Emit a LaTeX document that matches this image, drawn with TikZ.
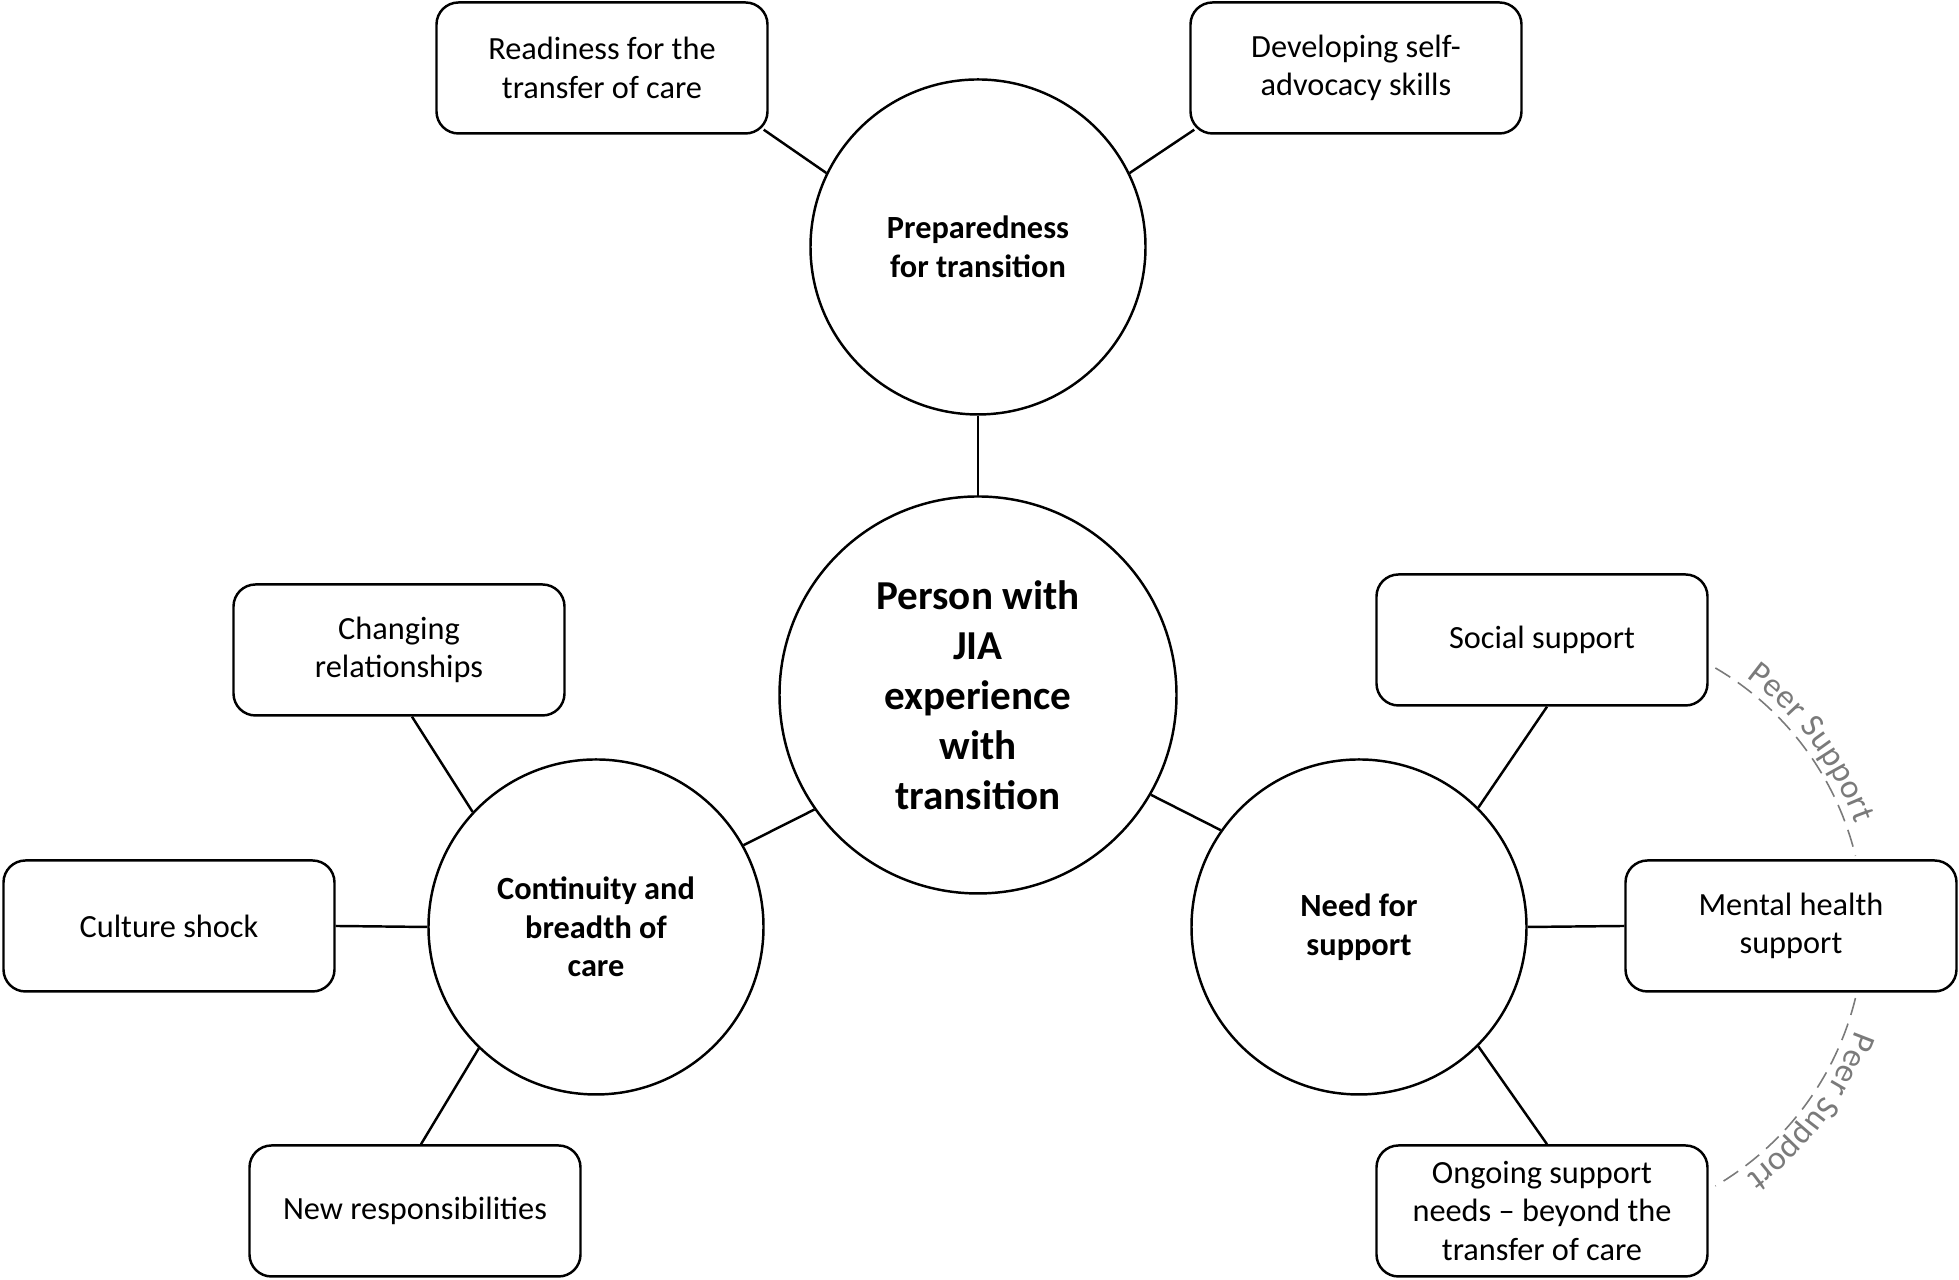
\documentclass[tikz,border=0pt]{standalone}
\usepackage{fontspec}
\setmainfont{Carlito}
\usetikzlibrary{decorations.text}
\definecolor{peergray}{HTML}{7A7A7A}
\tikzset{theme/.style = {shape=circle,draw,line width=0.7pt,minimum size=3.35cm,align=center,font=\bfseries\fontsize{9.2}{11}\selectfont}}
\tikzset{core/.style = {shape=circle,draw,line width=0.7pt,minimum size=3.97cm,align=center,font=\bfseries\fontsize{11.7}{14.2}\selectfont}}
\tikzset{subtheme/.style = {shape=rectangle,draw,rounded corners=0.22cm,line width=0.7pt,minimum width=3.31cm,minimum height=1.31cm,align=center,font=\fontsize{9.2}{10.9}\selectfont}}
\tikzset{link/.style = {line width=0.7pt}}
\tikzset{peerline/.style = {draw=peergray,line width=0.45pt,dash pattern=on 5pt off 2.6pt}}
\tikzset{peertext/.style = {decorate,decoration={text along path,text align=center,raise=2.5pt,text={|\fontsize{9.6}{11}\selectfont\color{peergray}|Peer Support}}}}

\begin{document}
\begin{tikzpicture}
\useasboundingbox (0,0) rectangle (19.59,12.8);

% themes
\node[core] (core) at (9.78,5.85) {Person with\\JIA\\experience\\with\\transition};
\node[theme] (prep) at (9.78,10.33) {Preparedness\\for transition};
\node[theme] (cont) at (5.96,3.53) {Continuity and\\breadth of\\care};
\node[theme] (need) at (13.59,3.53) {Need for\\support};

% subthemes
\node[subtheme] (read) at (6.02,12.12) {Readiness for the\\transfer of care};
\node[subtheme] (dev) at (13.56,12.12) {Developing self-\\advocacy skills};
\node[subtheme] (chg) at (3.99,6.30) {Changing\\relationships};
\node[subtheme] (cult) at (1.69,3.54) {Culture shock};
\node[subtheme] (new) at (4.15,0.69) {New responsibilities};
\node[subtheme] (soc) at (15.42,6.40) {Social support};
\node[subtheme] (ment) at (17.91,3.54) {Mental health\\support};
\node[subtheme] (ong) at (15.42,0.69) {Ongoing support\\needs – beyond the\\transfer of care};

\coordinate (peer) at (15.64,3.53);

\draw[link] (prep.154)
  -- ([shift={(-0.05,0.05)}]read.south east);
\draw[link] (prep.26)
  -- ([shift={(0.05,0.05)}]dev.south west);
\draw[link] (prep.south)
  -- (core.north);
\draw[link] (core.215)
  -- (cont.29);
\draw[link] (core.330)
  -- (need.145);

\draw[link] (cont.137)
  -- ([xshift=0.13cm]chg.south);
\draw[link] (cont.west)
  -- (cult.east);
\draw[link] (cont.226)
  -- ([xshift=0.06cm]new.north);

\draw[link] (need.45)
  -- ([xshift=0.05cm]soc.south);
\draw[link] (need.east)
  -- (ment.west);
\draw[link] (need.315)
  -- ([xshift=0.05cm]ong.north);

% peer support
\draw[peerline] ([shift={(59.7:3)}]peer)
  arc (59.7:13.7:3);
\draw[peerline] ([shift={(-13.7:3)}]peer)
  arc (-13.7:-59.7:3);
\path[peertext] ([shift={(59.7:3)}]peer)
  arc (59.7:13.7:3);
\path[peertext] ([shift={(-13.7:3)}]peer)
  arc (-13.7:-59.7:3);

\end{tikzpicture}
\end{document}
